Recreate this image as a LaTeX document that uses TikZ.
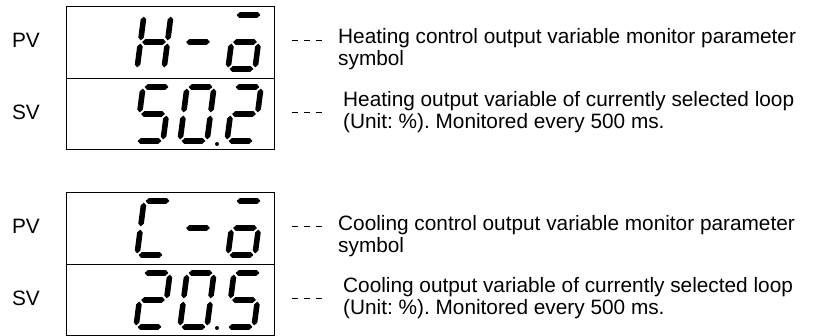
\documentclass[tikz,border=0pt]{standalone}
\usepackage{fontspec}
\setmainfont{Liberation Sans}
\usepackage{tikz}

% one segment, pointed ends
\newcommand{\hseg}[3]{\fill (#1,#3) -- (#1+2.8,#3+2.8) -- (#2-2.8,#3+2.8) -- (#2,#3) -- (#2-2.8,#3-2.8) -- (#1+2.8,#3-2.8) -- cycle;}
\newcommand{\vseg}[3]{\fill (#1,#2) -- (#1+2.8,#2+2.8) -- (#1+2.8,#3-2.8) -- (#1,#3) -- (#1-2.8,#3-2.8) -- (#1-2.8,#2+2.8) -- cycle;}
\newcommand{\sega}{\hseg{1.6}{25.4}{54}}
\newcommand{\segb}{\vseg{27}{28.6}{52.4}}
\newcommand{\segc}{\vseg{27}{1.6}{25.4}}
\newcommand{\segd}{\hseg{1.6}{25.4}{0}}
\newcommand{\sege}{\vseg{0}{1.6}{25.4}}
\newcommand{\segf}{\vseg{0}{28.6}{52.4}}
\newcommand{\segg}{\hseg{1.6}{25.4}{27}}
\newcommand{\ledchar}[3]{\begin{scope}[shift={(#1,#2)},xslant=0.13]
    \foreach \s in {#3} {\csname seg\s\endcsname}
  \end{scope}}

\begin{document}
\frenchspacing
\begin{tikzpicture}[x=1pt,y=1pt,
    txt/.style={font=\fontsize{20.8}{22}\selectfont, inner sep=0pt},
    note/.style={txt, anchor=west, align=left},
    half/.style={draw, line width=0.8pt, minimum width=208pt, inner sep=0pt},
    lead/.style={line width=0.6pt, dash pattern=on 6pt off 6pt}]
  \useasboundingbox (0,0) rectangle (813,336);

  % heating
  \node[half, minimum height=72pt] (pv1) at (170,294) {};
  \node[half, minimum height=71pt] (sv1) at (170,222.5) {};
  \node[txt] (pvl1) at (26,296) {PV};
  \node[txt] (svl1) at (26,224) {SV};
  \ledchar{137}{267}{b,c,e,f,g}
  \ledchar{181}{267}{g}
  \ledchar{228}{267}{a,c,d,e,g}
  \ledchar{136}{195}{a,f,g,c,d}
  \ledchar{180}{195}{a,b,c,d,e,f}
  \fill (217,192) circle (2);
  \ledchar{227}{195}{a,b,g,e,d}
  \coordinate (l1a) at (292,296);
  \coordinate (l1b) at (322,296);
  \coordinate (l2a) at (292,224);
  \coordinate (l2b) at (322,224);
  \draw[lead] (l1a) -- (l1b);
  \draw[lead] (l2a) -- (l2b);
  \node[note] (n1) at (338,287) {Heating control output variable monitor parameter\\symbol};
  \node[note] (n2) at (343,224) {Heating output variable of currently selected loop\\(Unit: \%). Monitored every 500 ms.};

  % cooling
  \node[half, minimum height=72pt] (pv2) at (170,108) {};
  \node[half, minimum height=71pt] (sv2) at (170,36.5) {};
  \node[txt] (pvl2) at (26,110) {PV};
  \node[txt] (svl2) at (26,38) {SV};
  \ledchar{137}{81}{a,d,e,f}
  \ledchar{181}{81}{g}
  \ledchar{228}{81}{a,c,d,e,g}
  \ledchar{136}{9}{a,b,g,e,d}
  \ledchar{180}{9}{a,b,c,d,e,f}
  \fill (217,8) circle (2);
  \ledchar{227}{9}{a,f,g,c,d}
  \coordinate (l3a) at (292,110);
  \coordinate (l3b) at (322,110);
  \coordinate (l4a) at (292,38);
  \coordinate (l4b) at (322,38);
  \draw[lead] (l3a) -- (l3b);
  \draw[lead] (l4a) -- (l4b);
  \node[note] (n3) at (338,100) {Cooling control output variable monitor parameter\\symbol};
  \node[note] (n4) at (343,38) {Cooling output variable of currently selected loop\\(Unit: \%). Monitored every 500 ms.};
\end{tikzpicture}
\end{document}
